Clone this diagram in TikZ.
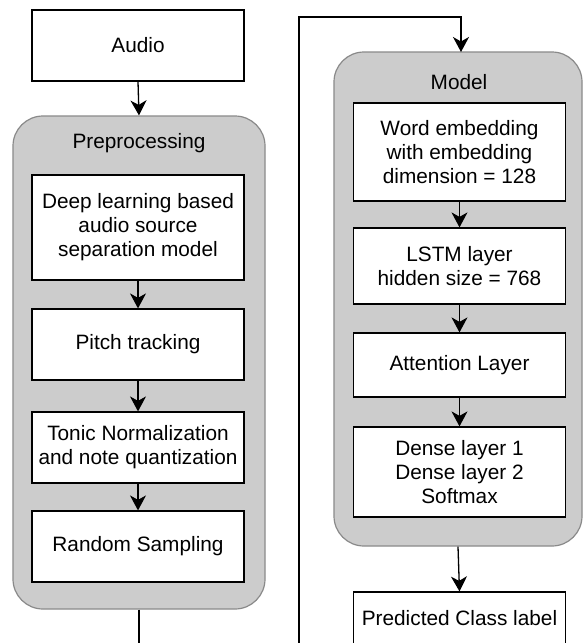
\documentclass[tikz,border=0pt]{standalone}
\usepackage{fontspec}
\setmainfont{Liberation Sans}
\usetikzlibrary{arrows.meta}
\definecolor{contfill}{HTML}{CCCCCC}
\definecolor{contdraw}{HTML}{8A8A8A}
\tikzset{
  txt/.style={font=\fontsize{20.8}{24}\selectfont, align=center},
  stepbox/.style={txt, draw=black, fill=white, line width=1.2pt, inner sep=0pt, minimum width=212pt},
  cont/.style={draw=contdraw, fill=contfill, line width=1.2pt, rounded corners=30pt, inner sep=0pt},
  arr/.style={-{Stealth[length=15pt,width=16pt,inset=4.5pt]}, line width=1.3pt, draw=black},
  conn/.style={line width=1.3pt, draw=black}
}
\begin{document}
\begin{tikzpicture}[x=1pt,y=-1pt]
\useasboundingbox (0,0) rectangle (583,643);
\clip (0,0) rectangle (583,643);
\fill[white] (0,0) rectangle (583,643);
% left column
\node[stepbox, minimum height=71pt] (audio) at (138,45.5) {Audio};
\node[cont, minimum width=252pt, minimum height=493pt] (prep) at (139,362.5) {};
\node[txt] (preptitle) at (139,143) {Preprocessing};
\node[stepbox, minimum height=105pt] (b1) at (138,227.5) {Deep learning based\\audio source\\separation model};
\node[stepbox, minimum height=71pt] (b2) at (138,344.5) {Pitch tracking};
\node[stepbox, minimum height=71pt] (b3) at (138,447.5) {Tonic Normalization\\and note quantization};
\node[stepbox, minimum height=71pt] (b4) at (138,546.5) {Random Sampling};
% right column
\node[cont, minimum width=248pt, minimum height=494pt] (model) at (458,299) {};
\node[txt] (modeltitle) at (459,82) {Model};
\node[stepbox, minimum height=98pt] (r1) at (459.5,152) {Word embedding\\with embedding\\dimension = 128};
\node[stepbox, minimum height=76pt] (r2) at (459.5,266) {LSTM layer\\hidden size = 768};
\node[stepbox, minimum height=64pt] (r3) at (459.5,365) {Attention Layer};
\node[stepbox, minimum height=90pt] (r4) at (459.5,472) {Dense layer 1\\Dense layer 2\\Softmax};
\node[stepbox, minimum height=52pt] (pred) at (459.5,618) {Predicted Class label};
% connectors
\draw[arr] (audio.south) -- (prep.north);
\draw[arr] (b1.south) -- (b2.north);
\draw[arr] (b2.south) -- (b3.north);
\draw[arr] (b3.south) -- (b4.north);
\draw[arr] (r1.south) -- (r2.north);
\draw[arr] (r2.south) -- (r3.north);
\draw[arr] (r3.south) -- (r4.north);
\draw[arr] (model.south) -- (pred.north);
\coordinate (c1) at (299,660);
\coordinate (c2) at (299,17);
\coordinate (c3) at (461,17);
\coordinate (c4) at (461,52);
\draw[arr] (prep.south) |- (c1) -- (c2) -- (c3) -- (c4);
\end{tikzpicture}
\end{document}
